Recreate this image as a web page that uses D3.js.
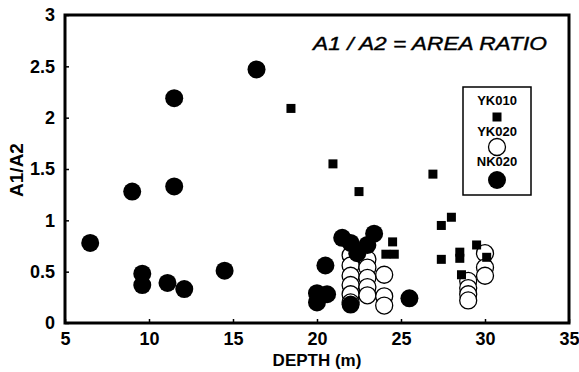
<!DOCTYPE html>
<html>
<head>
<meta charset="utf-8">
<script src="https://cdn.jsdelivr.net/npm/d3@7"></script>
<style>
  html, body { margin: 0; padding: 0; background: #fff; }
  svg { display: block; font-family: "Liberation Sans", Arial, sans-serif; }
</style>
</head>
<body>
<svg id="chart" width="579" height="372"></svg>
<script>
// Depth (m) and area ratio A1/A2 for three cores
const yk010Depth = [18.45, 20.95, 22.5, 26.9, 28.0, 27.4, 27.4, 28.5, 28.5, 28.6, 29.5, 30.1, 24.5, 24.1, 24.6];
const yk010Ratio = [2.09, 1.55, 1.28, 1.45, 1.03, 0.95, 0.62, 0.69, 0.63, 0.47, 0.76, 0.64, 0.79, 0.67, 0.67];

const yk020Depth = [22, 22, 22, 22, 22, 22, 23, 23, 23, 23, 23, 24, 24, 24, 29, 29, 29, 29, 30, 30, 30];
const yk020Ratio = [0.66, 0.56, 0.46, 0.37, 0.28, 0.2, 0.62, 0.54, 0.44, 0.35, 0.27, 0.47, 0.26, 0.17, 0.41, 0.34, 0.28, 0.22, 0.68, 0.54, 0.46];

const nk020Depth = [6.5, 9.0, 11.5, 11.5, 9.6, 9.6, 11.1, 12.1, 14.5, 16.4, 20.5, 20.0, 20.6, 20.0, 21.5, 22.0, 22.4, 23.0, 23.4, 22.0, 25.5];
const nk020Ratio = [0.78, 1.28, 2.19, 1.33, 0.48, 0.37, 0.39, 0.33, 0.51, 2.47, 0.56, 0.29, 0.28, 0.2, 0.83, 0.78, 0.68, 0.76, 0.87, 0.18, 0.24];

const xTicks = [5, 10, 15, 20, 25, 30, 35];
const yTicks = [0, 0.5, 1, 1.5, 2, 2.5, 3];
const yTickLabels = ["0", "0.5", "1", "1.5", "2", "2.5", "3"];
const seriesNames = ["YK010", "YK020", "NK020"];

const svg = d3.select("#chart");
const plotLeft = 65, plotRight = 569, plotTop = 15, plotBottom = 323;

const x = d3.scaleLinear().domain([5, 35]).range([plotLeft, plotRight]);
const y = d3.scaleLinear().domain([0, 3]).range([plotBottom, plotTop]);

// axes: labels outside, short ticks pointing into the plot
const yAxis = d3.axisLeft(y).tickValues(yTicks)
  .tickFormat((d, i) => yTickLabels[i]).tickSize(-4).tickPadding(10);
const xAxis = d3.axisBottom(x).tickValues(xTicks)
  .tickFormat(d3.format("d")).tickSize(-4).tickPadding(9);

const gy = svg.append("g").attr("transform", `translate(${plotLeft},0)`).call(yAxis);
const gx = svg.append("g").attr("transform", `translate(0,${plotBottom})`).call(xAxis);
[gx, gy].forEach(g => {
  g.select(".domain").remove();
  g.selectAll(".tick line").attr("stroke", "#000").attr("stroke-width", 1.5);
  g.selectAll(".tick text").attr("fill", "#000")
    .style("font-size", "18px").style("font-weight", "bold");
});

// markers: open rings first, filled discs over them, squares on top
const rings = d3.range(yk020Depth.length).map(i => [yk020Depth[i], yk020Ratio[i]]);
const discs = d3.range(nk020Depth.length).map(i => [nk020Depth[i], nk020Ratio[i]]);
const squares = d3.range(yk010Depth.length).map(i => [yk010Depth[i], yk010Ratio[i]]);

const plot = svg.append("g");
plot.selectAll("circle.yk020").data(rings).join("circle")
  .attr("class", "yk020")
  .attr("cx", d => x(d[0])).attr("cy", d => y(d[1])).attr("r", 8.5)
  .attr("fill", "#fff").attr("stroke", "#000").attr("stroke-width", 1.3);

plot.selectAll("circle.nk020").data(discs).join("circle")
  .attr("class", "nk020")
  .attr("cx", d => x(d[0])).attr("cy", d => y(d[1])).attr("r", 9)
  .attr("fill", "#000");

const sq = 9;
plot.selectAll("rect.yk010").data(squares).join("rect")
  .attr("class", "yk010")
  .attr("x", d => x(d[0]) - sq / 2).attr("y", d => y(d[1]) - sq / 2)
  .attr("width", sq).attr("height", sq).attr("fill", "#000");

// plot frame
svg.append("rect")
  .attr("x", plotLeft).attr("y", plotTop)
  .attr("width", plotRight - plotLeft).attr("height", plotBottom - plotTop)
  .attr("fill", "none").attr("stroke", "#000").attr("stroke-width", 3);

// axis titles
svg.append("text")
  .attr("transform", `translate(23,170) rotate(-90)`)
  .attr("text-anchor", "middle")
  .style("font-size", "19px").style("font-weight", "bold")
  .text("A1/A2");

svg.append("text")
  .attr("x", 317).attr("y", 366)
  .attr("text-anchor", "middle")
  .style("font-size", "17px").style("font-weight", "bold")
  .text("DEPTH (m)");

// caption inside the plot
svg.append("text")
  .attr("x", 313).attr("y", 50)
  .attr("textLength", 234).attr("lengthAdjust", "spacingAndGlyphs")
  .attr("stroke", "#000").attr("stroke-width", 0.4)
  .style("font-size", "19px").style("font-style", "italic")
  .text("A1 / A2 = AREA  RATIO");

// legend
const lg = svg.append("g");
lg.append("rect").attr("x", 463).attr("y", 87).attr("width", 68).attr("height", 108)
  .attr("fill", "#fff").attr("stroke", "#000").attr("stroke-width", 1.5);
const lx = 497;
const labelY = [105, 136, 166];
lg.selectAll("text").data(seriesNames).join("text")
  .attr("x", lx).attr("y", (d, i) => labelY[i])
  .attr("text-anchor", "middle")
  .style("font-size", "13px").style("font-weight", "bold")
  .text(d => d);
lg.append("rect").attr("x", lx - 4.5).attr("y", 117 - 4.5).attr("width", 9).attr("height", 9).attr("fill", "#000");
lg.append("circle").attr("cx", lx).attr("cy", 147).attr("r", 8.5)
  .attr("fill", "#fff").attr("stroke", "#000").attr("stroke-width", 1.3);
lg.append("circle").attr("cx", lx).attr("cy", 180).attr("r", 9).attr("fill", "#000");
</script>
</body>
</html>
